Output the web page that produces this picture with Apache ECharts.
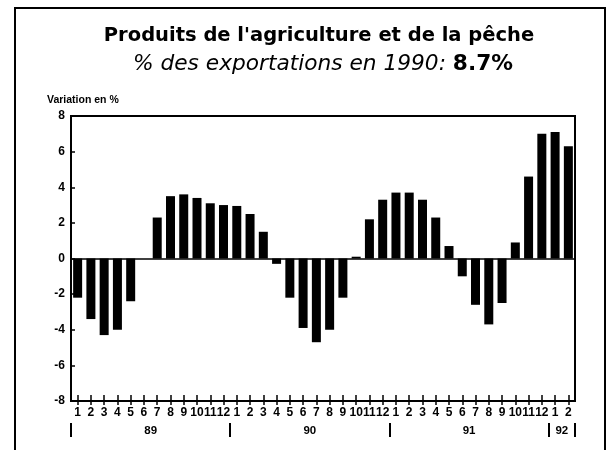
<!DOCTYPE html>
<html>
<head>
<meta charset="utf-8">
<title>Produits de l'agriculture et de la pêche</title>
<script src="https://cdn.jsdelivr.net/npm/echarts@6/dist/echarts.min.js"></script>
<style>
  html, body { margin: 0; padding: 0; width: 100%; height: 100%; background: #fff; overflow: hidden; }
  #main { width: 610px; height: 450px; }
</style>
</head>
<body>
<div id="main"></div>
<script>
// mois (89 -> 92)
var months = ['1','2','3','4','5','6','7','8','9','10','11','12',
              '1','2','3','4','5','6','7','8','9','10','11','12',
              '1','2','3','4','5','6','7','8','9','10','11','12',
              '1','2'];
// variation en %
var values = [-2.2, -3.4, -4.3, -4.0, -2.4, 0.0, 2.3, 3.5, 3.6, 3.4, 3.1, 3.0,
              2.95, 2.5, 1.5, -0.3, -2.2, -3.9, -4.7, -4.0, -2.2, 0.1, 2.2, 3.3,
              3.7, 3.7, 3.3, 2.3, 0.7, -1.0, -2.6, -3.7, -2.5, 0.9, 4.6, 7.0,
              7.1, 6.3];
var years = ['89', '90', '91', '92'];
var yearLabelAt = [6, 18, 30, 37];

var font = 'Liberation Sans';
var myChart = echarts.init(document.getElementById('main'));

myChart.setOption({
  animation: false,
  backgroundColor: '#fff',
  title: {
    text: 'Variation en %',
    left: 47,
    top: 95,
    padding: 0,
    textStyle: { fontFamily: font, fontWeight: 'bold', fontSize: 10.5, color: '#000' }
  },
  graphic: [{
    // cadre ouvert en bas
    type: 'polyline',
    shape: { points: [[15, 470], [15, 8], [605, 8], [605, 470]] },
    style: { fill: null, stroke: '#000', lineWidth: 2 },
    silent: true
  }, {
    type: 'text',
    x: 319, y: 36,
    style: {
      text: "Produits de l'agriculture et de la pêche",
      align: 'center', verticalAlign: 'middle',
      font: 'bold 19.5px "DejaVu Sans"', fill: '#000'
    },
    silent: true
  }, {
    type: 'text',
    x: 323, y: 64,
    style: {
      text: '{i|% des exportations en 1990: }{b|8.7%}',
      align: 'center', verticalAlign: 'middle',
      rich: {
        i: { fontFamily: 'DejaVu Sans', fontStyle: 'italic', fontSize: 21.7, fill: '#000' },
        b: { fontFamily: 'DejaVu Sans', fontWeight: 'bold', fontSize: 21.7, fill: '#000' }
      }
    },
    silent: true
  }],
  grid: {
    left: 71, right: 35, top: 116, bottom: 49,
    show: true, borderColor: '#000', borderWidth: 2
  },
  xAxis: [{
    type: 'category',
    data: months,
    position: 'bottom',
    axisLine: { show: true, onZero: false, lineStyle: { color: '#000', width: 2 } },
    axisTick: { show: true, alignWithLabel: true, interval: 0, length: 4, lineStyle: { color: '#000', width: 1.5 } },
    axisLabel: { interval: 0, margin: 6, fontFamily: font, fontWeight: 'bold', fontSize: 12, color: '#000' }
  }, {
    // demi-graduation intérieure -> croix
    type: 'category',
    data: months,
    position: 'bottom',
    axisLine: { show: false, onZero: false },
    axisTick: { show: true, inside: true, alignWithLabel: true, interval: 0, length: 6, lineStyle: { color: '#000', width: 1.5 } },
    axisLabel: { show: false }
  }, {
    // années
    type: 'category',
    data: months,
    position: 'bottom',
    offset: 22,
    axisLine: { show: false, onZero: false },
    axisTick: {
      show: true,
      interval: function (i) { return i % 12 === 0; },
      length: 14,
      lineStyle: { color: '#000', width: 2 }
    },
    axisLabel: {
      interval: function (i) { return yearLabelAt.indexOf(i) >= 0; },
      formatter: function (v, i) { return years[yearLabelAt.indexOf(i)] || ''; },
      padding: [0, 13, 0, 0],
      margin: 2,
      fontFamily: font, fontWeight: 'bold', fontSize: 11.5, color: '#000'
    }
  }],
  yAxis: {
    type: 'value',
    min: -8, max: 8, interval: 2,
    axisLine: { show: true, lineStyle: { color: '#000', width: 2 } },
    axisTick: { show: true, inside: true, length: 4, lineStyle: { color: '#000', width: 1.5 } },
    axisLabel: { margin: 6, fontFamily: font, fontWeight: 'bold', fontSize: 12, color: '#000' },
    splitLine: { show: false }
  },
  series: [{
    type: 'bar',
    data: values,
    xAxisIndex: 0,
    barWidth: 9,
    itemStyle: { color: '#000' },
    markLine: {
      silent: true,
      symbol: 'none',
      label: { show: false },
      lineStyle: { color: '#000', type: 'solid', width: 1.5 },
      data: [{ yAxis: 0 }]
    }
  }]
});
</script>
</body>
</html>
